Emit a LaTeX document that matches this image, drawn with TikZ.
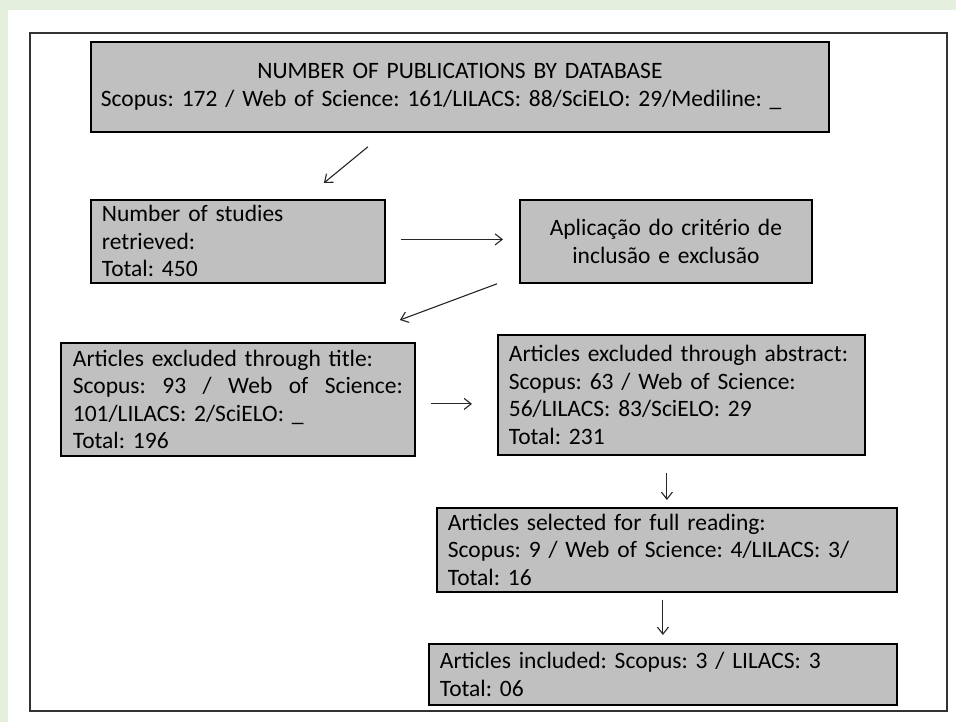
\documentclass[tikz,border=0pt]{standalone}
\usepackage{fontspec}
\setmainfont{Carlito}
\usepackage{tikz}
\usetikzlibrary{arrows.meta}

\definecolor{pagegreen}{RGB}{228,239,222}
\definecolor{boxgray}{RGB}{192,192,192}

\begin{document}
\frenchspacing
\begin{tikzpicture}[
    x=1pt, y=-1pt,
    font=\fontsize{23.5}{27.5}\selectfont,
    box/.style={rectangle, draw=black, line width=1.8pt, fill=boxgray, anchor=north west, inner ysep=2pt},
    leftbox/.style={box, align=left, inner xsep=11pt},
    arrow/.style={-{Straight Barb[length=7pt,width=11pt]}, line width=1.1pt, draw=black!85}
]

% page and frame
\fill[pagegreen] (0,0) rectangle (956,722);
\fill[white] (8,10) rectangle (956,722);
\draw[line width=1.3pt, black!80] (30,33) rectangle (947,711);

% Database counts
\node[box, minimum height=90pt, text width=718pt, inner xsep=10pt, align=left] (db) at (90,41) {\makebox[\hsize][c]{NUMBER OF PUBLICATIONS BY DATABASE}\\Scopus: 172 / Web of Science: 161/LILACS: 88/SciELO: 29/Mediline: \_};

% Retrieved and criteria
\node[leftbox, minimum height=83pt, text width=272pt] (ret) at (90,199) {Number of studies\\retrieved:\\Total: 450};
\node[box, minimum height=83pt, text width=270pt, inner xsep=11pt, align=center] (crit) at (519,199) {Aplicação do critério de\\inclusão e exclusão};

% Exclusions
\node[leftbox, minimum height=113pt, text width=330pt, inner xsep=12pt] (tit) at (60,342) {Articles excluded through title:\\\leavevmode\hbox to\hsize{Scopus:\hfill 93\hfill /\hfill Web\hfill of\hfill Science:}\\101/LILACS: 2/SciELO: \_\\Total: 196};
\node[leftbox, minimum height=120pt, text width=345pt] (abs) at (497,334) {Articles excluded through abstract:\\Scopus: 63 / Web of Science:\\56/LILACS: 83/SciELO: 29\\Total: 231};

% Selection
\node[leftbox, minimum height=84pt, text width=438pt] (full) at (436,507) {Articles selected for full reading:\\Scopus: 9 / Web of Science: 4/LILACS: 3/\\Total: 16};
\node[leftbox, minimum height=61pt, text width=446pt] (inc) at (428,643) {Articles included: Scopus: 3 / LILACS: 3\\Total: 06};

% Arrows
\draw[arrow] ([xshift=-92pt,yshift=-14pt]db.south) -- ([xshift=86pt,yshift=16pt]ret.north);
\draw[arrow, shorten <=15pt, shorten >=16pt] ([yshift=2pt]ret.east) -- ([yshift=2pt]crit.west);
\draw[arrow] ([xshift=-22pt]crit.south west) -- ([xshift=162pt,yshift=22pt]tit.north);
\draw[arrow, shorten <=15pt, shorten >=25pt] ([yshift=-4.5pt]tit.east) -- ([yshift=-9pt]abs.west);
\draw[arrow, shorten <=17pt, shorten >=7pt] (full.north |- abs.south) -- (full.north);
\draw[arrow, shorten <=7pt, shorten >=8pt] (inc.north |- full.south) -- (inc.north);

\end{tikzpicture}
\end{document}
